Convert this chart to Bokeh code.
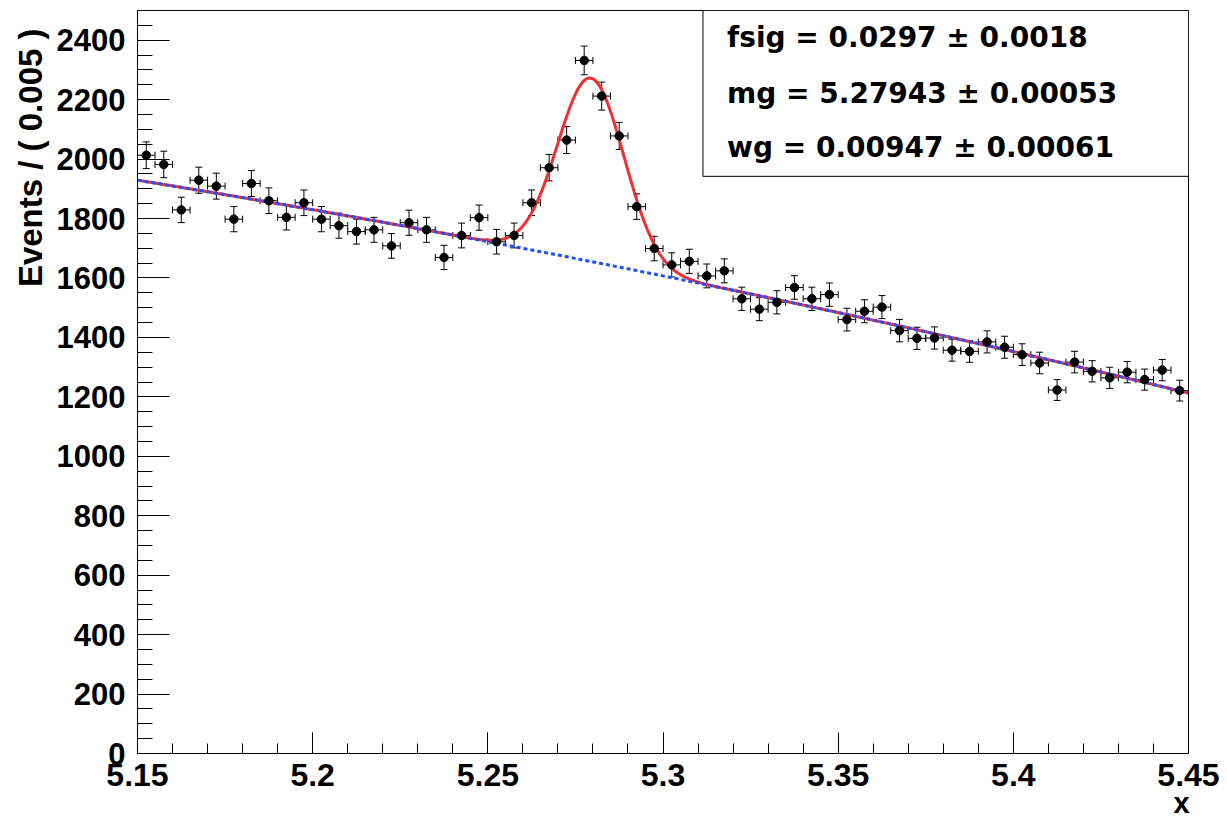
import numpy as np
from bokeh.plotting import figure
from bokeh.models import (ColumnDataSource, Whisker, TeeHead, FixedTicker, Label,
                          BoxAnnotation, Range1d, Title, LinearAxis)
from bokeh.embed import file_html
from bokeh.resources import INLINE

# ---------------- data ----------------
bin_low = 5.15
bin_width = 0.005
counts = [2013, 1982, 1829, 1929, 1909, 1798, 1918, 1860, 1804, 1853,
          1798, 1776, 1756, 1762, 1708, 1786, 1762, 1669, 1743, 1803,
          1722, 1743, 1853, 1971, 2064, 2332, 2212, 2078, 1840, 1699,
          1644, 1656, 1607, 1624, 1530, 1495, 1518, 1568, 1530, 1544,
          1460, 1488, 1502, 1423, 1397, 1398, 1357, 1353, 1385, 1367,
          1342, 1314, 1223, 1317, 1286, 1264, 1283, 1258, 1290, 1221]

# fit results shown in the box
fit_names = ["fsig", "mg", "wg"]
fit_values = ["0.0297", "5.27943", "0.00947"]
fit_errors = ["0.0018", "0.00053", "0.00061"]
fsig = 0.0297
mg = 5.27943
wg = 0.00947

# background component (at three x positions)
bkg_ref_x = [5.15, 5.30, 5.45]
bkg_ref_y = [1929, 1607, 1213]

x_tick_labels = ["5.15", "5.2", "5.25", "5.3", "5.35", "5.4", "5.45"]
y_tick_values = [0, 200, 400, 600, 800, 1000, 1200, 1400, 1600, 1800, 2000, 2200, 2400]
x_title = "x"
y_title = "Events / ( 0.005 )"

# ---------------- derived ----------------
counts_arr = np.array(counts, dtype=float)
n_bins = len(counts)
xc = bin_low + bin_width * (np.arange(n_bins) + 0.5)
err = np.sqrt(counts_arr)
src = ColumnDataSource(dict(
    x=xc, y=counts_arr,
    xlo=xc - bin_width / 2, xhi=xc + bin_width / 2,
    ylo=counts_arr - err, yhi=counts_arr + err,
))

x_curve = np.linspace(5.15, 5.45, 801)
bkg_coef = np.polyfit(bkg_ref_x, bkg_ref_y, 2)
bkg_curve = np.polyval(bkg_coef, x_curve)
n_total = counts_arr.sum()
amp = fsig * n_total * bin_width / (wg * np.sqrt(2 * np.pi))
total_curve = bkg_curve + amp * np.exp(-0.5 * ((x_curve - mg) / wg) ** 2)

# ---------------- figure ----------------
p = figure(width=1227, height=823,
           x_range=Range1d(5.15, 5.45), y_range=Range1d(0, 2500),
           output_backend="svg", toolbar_location=None,
           min_border_left=137, min_border_right=39,
           min_border_top=10, min_border_bottom=70)
p.background_fill_color = "white"
p.border_fill_color = "white"
p.xgrid.visible = False
p.ygrid.visible = False
p.outline_line_color = "black"
p.outline_line_width = 1
p.outline_line_alpha = 1

x_ticks = [float(s) for s in x_tick_labels]
x_minor = [round(5.15 + 0.01 * k, 3) for k in range(31)]
p.xaxis.ticker = FixedTicker(ticks=x_ticks, minor_ticks=x_minor)
p.xaxis.major_label_overrides = {t: s for t, s in zip(x_ticks, x_tick_labels)}
y_minor = list(range(0, 2500, 50))
p.yaxis.ticker = FixedTicker(ticks=y_tick_values, minor_ticks=y_minor)

for ax in (p.xaxis, p.yaxis):
    ax.axis_line_color = "black"
    ax.axis_line_width = 1
    ax.major_tick_line_color = "black"
    ax.minor_tick_line_color = "black"
    ax.major_tick_out = 0
    ax.minor_tick_out = 0
    ax.major_label_text_font = "Liberation Sans"
    ax.major_label_text_font_style = "bold"
    ax.major_label_text_color = "black"

p.xaxis.major_tick_in = 21
p.xaxis.minor_tick_in = 10
p.xaxis.major_label_text_font_size = "32px"
p.xaxis.major_label_standoff = 10
p.yaxis.major_tick_in = 32
p.yaxis.minor_tick_in = 15
p.yaxis.major_label_text_font_size = "31px"
p.yaxis.major_label_standoff = 12

# x axis title, drawn as the single label of an extra bare axis
title_axis = LinearAxis(ticker=FixedTicker(ticks=[5.448], minor_ticks=[]),
                        major_label_overrides={5.448: x_title},
                        axis_line_color=None, major_tick_line_color=None,
                        minor_tick_line_color=None,
                        major_tick_in=0, major_tick_out=0,
                        minor_tick_in=0, minor_tick_out=0,
                        major_label_standoff=-2,
                        major_label_text_font="Liberation Sans",
                        major_label_text_font_style="bold",
                        major_label_text_font_size="29px",
                        major_label_text_color="black")
p.add_layout(title_axis, "below")

# y axis title
p.add_layout(Title(text=y_title, align="right", offset=18, standoff=10,
                   text_font="Liberation Sans", text_font_style="bold",
                   text_font_size="33px", text_color="black"), "left")

# curves
p.line(x_curve, total_curve, line_color="#f03030", line_width=3)
p.line(x_curve, bkg_curve, line_color="#1f4fff", line_width=3, line_dash="4 3")

# error bars
p.add_layout(Whisker(source=src, base="x", lower="ylo", upper="yhi", dimension="height",
                     line_color="black", line_width=1,
                     upper_head=TeeHead(size=7, line_color="black", line_width=1),
                     lower_head=TeeHead(size=7, line_color="black", line_width=1)))
p.add_layout(Whisker(source=src, base="y", lower="xlo", upper="xhi", dimension="width",
                     line_color="black", line_width=1,
                     upper_head=TeeHead(size=7, line_color="black", line_width=1),
                     lower_head=TeeHead(size=7, line_color="black", line_width=1)))
p.scatter("x", "y", source=src, marker="circle", size=8.5,
          fill_color="black", line_color="black")

# parameter box
p.add_layout(BoxAnnotation(left=5.3114, right=5.45, bottom=1942, top=2500,
                           fill_color="white", fill_alpha=1,
                           line_color="black", line_width=1, line_alpha=1))
box_baselines = [2410, 2222, 2039]
for name, val, e, yb in zip(fit_names, fit_values, fit_errors, box_baselines):
    p.add_layout(Label(x=5.3183, y=yb, text=f"{name} = {val} \u00b1 {e}",
                       text_font="DejaVu Sans", text_font_style="bold",
                       text_font_size="28px", text_color="black",
                       text_align="left", text_baseline="alphabetic"))

open("out.html", "w").write(file_html(p, INLINE))
